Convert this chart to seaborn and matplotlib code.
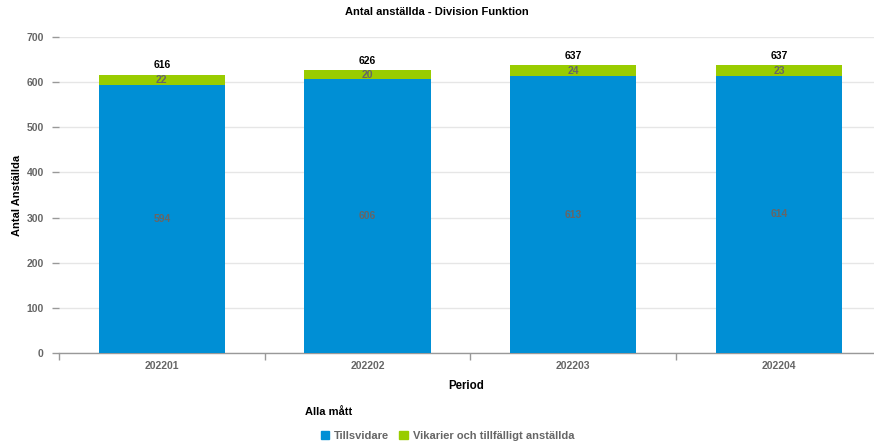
import matplotlib
matplotlib.use("Agg")
import matplotlib.pyplot as plt
import seaborn as sns
import pandas as pd
from matplotlib.patches import Patch

periods = ["202201", "202202", "202203", "202204"]
tillsvidare = [594, 606, 613, 614]
vikarier = [22, 20, 24, 23]
totals = [a + b for a, b in zip(tillsvidare, vikarier)]

blue = "#008FD5"
green = "#99CC00"

sns.set_theme(style="white")
plt.rcParams['font.family'] = ['Liberation Sans', 'DejaVu Sans']

df = pd.DataFrame({"Period": periods, "Tillsvidare": tillsvidare,
                   "Vikarier": vikarier, "Total": totals})

fig = plt.figure(figsize=(8.74, 4.45), dpi=100)
ax = fig.add_axes([59/874, 1-353/445, 1-59/874, (353-37)/445])

w = 126/205.5
sns.barplot(data=df, x="Period", y="Total", color=green, width=w,
            saturation=1, ax=ax, zorder=2, linewidth=0, edgecolor="none")
sns.barplot(data=df, x="Period", y="Tillsvidare", color=blue, width=w,
            saturation=1, ax=ax, zorder=3, linewidth=0, edgecolor="none")

ax.set_yticks(range(0, 701, 100))
ax.grid(axis="y", color="#E6E6E6", linewidth=1, zorder=0)
ax.set_axisbelow(True)

for sp in ["top", "right", "left"]:
    ax.spines[sp].set_visible(False)
ax.spines["bottom"].set_color("#999999")
ax.spines["bottom"].set_linewidth(1)

ax.tick_params(axis="y", length=5, color="#999999", width=1, pad=6,
               labelsize=7.5, labelcolor="#666666", left=True)
ax.set_xticks(range(len(periods)))
ax.set_xticklabels(periods)
ax.tick_params(axis="x", length=0, pad=6, labelsize=7.5, labelcolor="#666666")
ax.set_xticks([-0.5, 0.5, 1.5, 2.5, 3.5], minor=True)
ax.tick_params(axis="x", which="minor", length=5, color="#999999", width=1,
               bottom=True)
for t in ax.get_yticklabels() + ax.get_xticklabels():
    t.set_fontweight("bold")

ax.set_xlim(-0.5, -0.5 + 815/205.7)
ax.set_ylim(0, 700)

ax.set_xlabel("Period", fontsize=8.3, fontweight="bold", color="black", labelpad=6)
ax.set_ylabel("Antal Anställda", fontsize=8, fontweight="bold", color="black")
ax.yaxis.set_label_coords(-(59-22)/815, 0.5)

fig.text(0.5, 1-12/445, "Antal anställda - Division Funktion", ha="center",
         va="center", fontsize=8, fontweight="bold", color="black")

# labels
green_bars = ax.containers[0]
blue_bars = ax.containers[1]
for bar, v in zip(blue_bars, tillsvidare):
    ax.text(bar.get_x() + bar.get_width()/2, v/2, str(v), ha="center",
            va="center", fontsize=7.5, fontweight="bold", color="#666666",
            zorder=5)
for bar, b, v in zip(green_bars, tillsvidare, vikarier):
    ax.text(bar.get_x() + bar.get_width()/2, b + v/2, str(v), ha="center",
            va="center", fontsize=7.5, fontweight="bold", color="#666666",
            zorder=5)
for bar, t in zip(green_bars, totals):
    ax.text(bar.get_x() + bar.get_width()/2, t + 10, str(t), ha="center",
            va="bottom", fontsize=7.5, fontweight="bold", color="black",
            zorder=5)

fig.text(305/874, 1-412/445, "Alla mått", ha="left", va="center",
         fontsize=8, fontweight="bold", color="black")
handles = [Patch(color=blue, label="Tillsvidare"),
           Patch(color=green, label="Vikarier och tillfälligt anställda")]
leg = fig.legend(handles=handles, ncol=2, frameon=False, loc="center left",
                 bbox_to_anchor=(321/874, 1-436/445),
                 fontsize=8, handlelength=0.75, handleheight=0.75,
                 handletextpad=0.45, columnspacing=0.9,
                 borderaxespad=0, borderpad=0)
for t in leg.get_texts():
    t.set_color("#666666")
    t.set_fontweight("bold")

fig.savefig("out.png", dpi=100)
